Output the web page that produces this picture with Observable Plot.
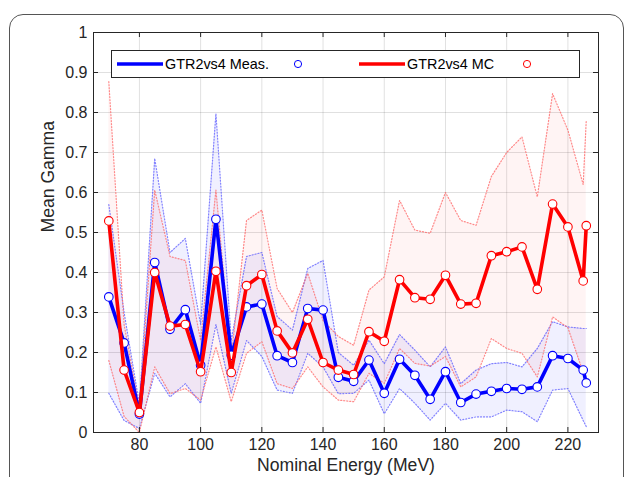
<!DOCTYPE html>
<html>
<head>
<meta charset="utf-8">
<script src="https://cdn.jsdelivr.net/npm/d3@7"></script>
<script src="https://cdn.jsdelivr.net/npm/@observablehq/plot@0.6"></script>
<style>
  html, body { margin: 0; padding: 0; background: #fff; }
  body { width: 630px; height: 477px; overflow: hidden; position: relative; font-family: "Liberation Sans", Arial, sans-serif; }
  #frame { position: absolute; left: 9px; top: 14px; width: 615px; height: 490px; border: 1.5px solid #555; border-radius: 14px; box-sizing: border-box; pointer-events: none; }
  #chart { position: absolute; left: 0; top: 0; }
  #legend { position: absolute; left: 111px; top: 50px; width: 469px; height: 28px; box-sizing: border-box; border: 1px solid #262626; background: #fff; }
</style>
</head>
<body>
<div id="frame"></div>
<div id="chart"></div>
<div id="legend"></div>
<script>
const energy = [70,75,80,85,90,95,100,105,110,115,120,125,130,135,140,145,150,155,160,165,170,175,180,185,190,195,200,205,210,215,220,225,226];

const measMean = [0.339,0.224,0.046,0.425,0.258,0.307,0.168,0.533,0.193,0.314,0.321,0.192,0.175,0.310,0.306,0.138,0.128,0.181,0.098,0.183,0.143,0.083,0.152,0.075,0.096,0.103,0.110,0.108,0.114,0.192,0.185,0.156,0.124];
const measHi   = [0.570,0.300,0.070,0.685,0.450,0.485,0.270,0.797,0.230,0.440,0.450,0.290,0.256,0.410,0.430,0.200,0.168,0.231,0.172,0.245,0.206,0.164,0.214,0.122,0.156,0.172,0.175,0.164,0.210,0.277,0.264,0.260,0.260];
const measLo   = [0.098,0.030,0.010,0.148,0.089,0.122,0.073,0.270,0.098,0.230,0.190,0.106,0.098,0.198,0.164,0.097,0.098,0.131,0.047,0.110,0.073,0.031,0.073,0.031,0.039,0.039,0.056,0.052,0.027,0.106,0.110,0.030,0.015];

const mcMean = [0.529,0.156,0.050,0.400,0.266,0.270,0.152,0.403,0.150,0.367,0.395,0.254,0.199,0.283,0.175,0.156,0.145,0.252,0.228,0.382,0.337,0.333,0.393,0.321,0.323,0.442,0.452,0.464,0.358,0.571,0.514,0.379,0.517];
const mcHi   = [0.877,0.270,0.060,0.606,0.440,0.430,0.230,0.606,0.190,0.530,0.556,0.360,0.300,0.398,0.280,0.240,0.218,0.356,0.389,0.580,0.506,0.498,0.600,0.530,0.518,0.640,0.700,0.739,0.589,0.847,0.756,0.620,0.780];
const mcLo   = [0.180,0.040,0.000,0.164,0.097,0.110,0.081,0.214,0.077,0.198,0.227,0.122,0.110,0.164,0.114,0.081,0.077,0.148,0.123,0.210,0.173,0.166,0.190,0.114,0.139,0.235,0.210,0.198,0.139,0.289,0.262,0.150,0.130];

const xTicks = [80,100,120,140,160,180,200,220];
const yTicks = [0,0.1,0.2,0.3,0.4,0.5,0.6,0.7,0.8,0.9,1];
const yTickLabels = ["0","0.1","0.2","0.3","0.4","0.5","0.6","0.7","0.8","0.9","1"];

const seriesNames = ["GTR2vs4 Meas.", "GTR2vs4 MC"];
const seriesColors = ["#0000ff", "#ff0000"];
const bandLineColors = ["#5a5aff", "#ff6464"];

const meas = energy.map((e, i) => ({E: e, m: measMean[i], lo: measLo[i], hi: measHi[i]}));
const mc = energy.map((e, i) => ({E: e, m: mcMean[i], lo: mcLo[i], hi: mcHi[i]}));

const W = 630, H = 477;
const mL = 93, mR = 32, mT = 32, mB = 45;
const plotH = H - mT - mB, plotW = W - mL - mR;
const tickLen = 5;
const font = "Liberation Sans, Arial, sans-serif";

const dotted = {strokeWidth: 1.2, strokeDasharray: "1.1,1.9", strokeOpacity: 0.75};

const chart = Plot.plot({
  width: W, height: H,
  marginLeft: mL, marginRight: mR, marginTop: mT, marginBottom: mB,
  style: {fontFamily: font, color: "#262626", background: "transparent"},
  x: {domain: [65, 230]},
  y: {domain: [0, 1]},
  marks: [
    Plot.gridX(xTicks, {stroke: "#000", strokeOpacity: 0.12, strokeWidth: 1}),
    Plot.gridY(yTicks, {stroke: "#000", strokeOpacity: 0.12, strokeWidth: 1}),
    // bands
    Plot.areaY(meas, {x: "E", y1: "lo", y2: "hi", fill: seriesColors[0], fillOpacity: 0.06}),
    Plot.areaY(mc, {x: "E", y1: "lo", y2: "hi", fill: seriesColors[1], fillOpacity: 0.045}),
    Plot.lineY(meas, {x: "E", y: "hi", stroke: bandLineColors[0], ...dotted}),
    Plot.lineY(meas, {x: "E", y: "lo", stroke: bandLineColors[0], ...dotted}),
    Plot.lineY(mc, {x: "E", y: "hi", stroke: bandLineColors[1], ...dotted}),
    Plot.lineY(mc, {x: "E", y: "lo", stroke: bandLineColors[1], ...dotted}),
    // mean lines
    Plot.lineY(meas, {x: "E", y: "m", stroke: seriesColors[0], strokeWidth: 3.6, strokeLinejoin: "round"}),
    Plot.dot(meas, {x: "E", y: "m", r: 4.3, fill: "#fff", stroke: seriesColors[0], strokeWidth: 1.1}),
    Plot.lineY(mc, {x: "E", y: "m", stroke: seriesColors[1], strokeWidth: 3.6, strokeLinejoin: "round"}),
    Plot.dot(mc, {x: "E", y: "m", r: 4.3, fill: "#fff", stroke: seriesColors[1], strokeWidth: 1.1}),
    // frame and inward ticks
    Plot.frame({stroke: "#262626", strokeWidth: 1}),
    Plot.tickX(xTicks, {x: d => d, stroke: "#262626", insetTop: plotH - tickLen}),
    Plot.tickX(xTicks, {x: d => d, stroke: "#262626", insetBottom: plotH - tickLen}),
    Plot.tickY(yTicks, {y: d => d, stroke: "#262626", insetRight: plotW - tickLen}),
    Plot.tickY(yTicks, {y: d => d, stroke: "#262626", insetLeft: plotW - tickLen}),
    Plot.axisX(xTicks, {tickSize: 0, tickPadding: 6, fontSize: 16, label: null, fill: "#262626"}),
    Plot.axisY(yTicks, {tickSize: 0, tickPadding: 6, fontSize: 16, label: null, fill: "#262626",
      tickFormat: d => yTickLabels[yTicks.indexOf(d)]}),
    Plot.text(["Nominal Energy (MeV)"], {frameAnchor: "bottom", dy: 38, fontSize: 17.6, fill: "#262626"}),
    Plot.text(["Mean Gamma"], {frameAnchor: "left", dx: -45, rotate: -90, fontSize: 17.6, fill: "#262626"})
  ]
});
document.getElementById("chart").appendChild(chart);

// legend
const lg = d3.select("#legend").append("svg").attr("width", 467).attr("height", 26)
  .style("position", "absolute").style("left", "0").style("top", "0");
const legendItems = [
  {name: seriesNames[0], color: seriesColors[0], x0: 5, circle: 186},
  {name: seriesNames[1], color: seriesColors[1], x0: 247, circle: 415}
];
legendItems.forEach(it => {
  lg.append("line").attr("x1", it.x0).attr("x2", it.x0 + 46).attr("y1", 13).attr("y2", 13)
    .attr("stroke", it.color).attr("stroke-width", 3.6);
  lg.append("text").attr("x", it.x0 + 48).attr("y", 13).attr("dy", "0.35em")
    .attr("font-family", font).attr("font-size", 14.4).attr("fill", "#000").text(it.name);
  lg.append("circle").attr("cx", it.circle).attr("cy", 13).attr("r", 3.6)
    .attr("fill", "#fff").attr("stroke", it.color).attr("stroke-width", 1);
});
</script>
</body>
</html>
